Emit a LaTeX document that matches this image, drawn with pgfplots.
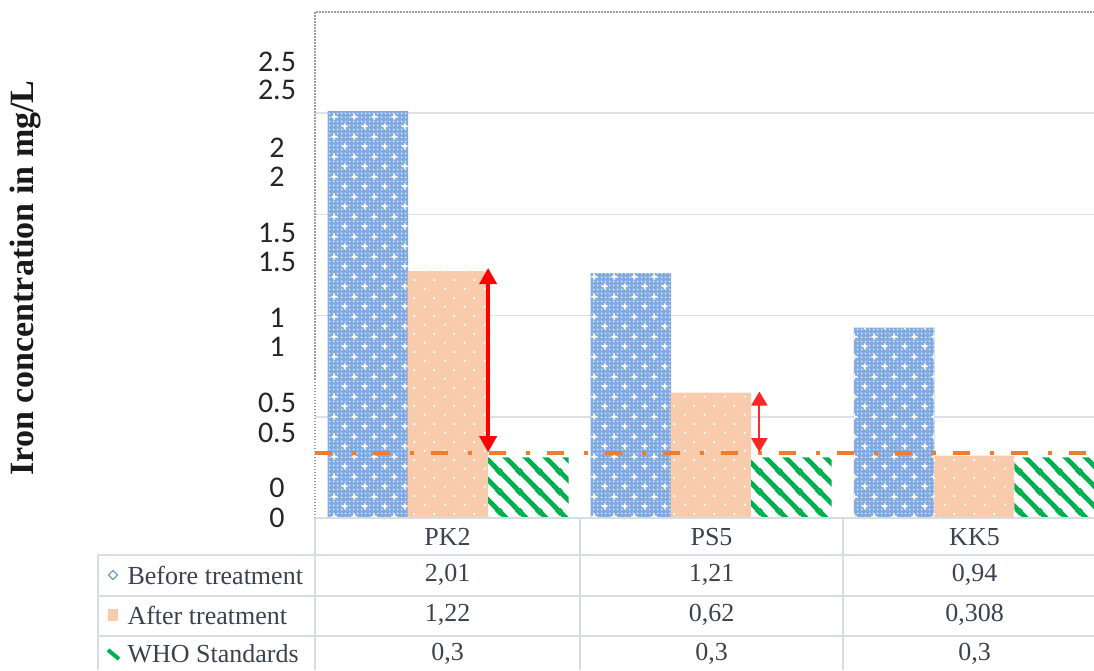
\documentclass[border=0pt]{standalone}
\usepackage{pgfplots}
\pgfplotsset{compat=1.18}
\usepackage{pgfplotstable}
\usepackage{fontspec}
\setmainfont{Liberation Serif}
\newfontfamily\tickfont{Carlito}
\usetikzlibrary{patterns.meta,arrows.meta}

\definecolor{beforeblue}{RGB}{128,170,228}
\definecolor{afterpeach}{RGB}{248,203,173}
\definecolor{whogreen}{RGB}{0,176,80}
\definecolor{refline}{RGB}{237,125,49}
\definecolor{gridc}{RGB}{219,224,233}
\definecolor{tabline}{RGB}{214,221,229}
\definecolor{tabtext}{RGB}{58,66,80}
\definecolor{ticktext}{RGB}{38,38,38}

% white plus signs on a staggered lattice (before treatment)
\tikzdeclarepattern{
  name=wcross, type=uncolored,
  bounding box={(0pt,0pt) and (20pt,20pt)},
  tile size={(20pt,20pt)},
  code={
    \draw[line width=1.8pt] (2pt,5pt) -- (8pt,5pt) (5pt,2pt) -- (5pt,8pt)
      (12pt,15pt) -- (18pt,15pt) (15pt,12pt) -- (15pt,18pt);
  }
}
% fine dot texture
\tikzdeclarepattern{
  name=fdots, type=uncolored,
  bounding box={(0pt,0pt) and (4pt,4pt)},
  tile size={(4pt,4pt)},
  code={\fill (2pt,2pt) circle (1.1pt);}
}
% small white dots (after treatment)
\tikzdeclarepattern{
  name=wdots, type=uncolored,
  bounding box={(0pt,0pt) and (20pt,18pt)},
  tile size={(20pt,18pt)},
  code={\fill (5pt,4.5pt) circle (1.3pt) (15pt,13.5pt) circle (1.3pt);}
}
% wide diagonal stripes (WHO standard)
\tikzdeclarepattern{
  name=wstripes, type=uncolored,
  bounding box={(0pt,0pt) and (20pt,20pt)},
  tile size={(20pt,20pt)},
  code={
    \draw[line width=5pt] (-10pt,10pt) -- (10pt,-10pt)
      (0pt,20pt) -- (20pt,0pt) (10pt,30pt) -- (30pt,10pt);
  }
}

\pgfplotstableread{
x before after who
0 2.01 1.22 0.3
1 1.21 0.62 0.3
2 0.94 0.308 0.3
}\irondata

\begin{document}
\begin{tikzpicture}[x=1pt,y=1pt]
\useasboundingbox (0,0) rectangle (1094,670);
\begin{axis}[
  at={(315pt,152pt)}, anchor=south west,
  scale only axis, width=779pt, height=506pt,
  xmin=-0.505, xmax=2.456, ymin=0, ymax=2.5,
  axis line style={draw=none},
  xtick=\empty,
  ytick={0.5,1,1.5,2}, yticklabels={}, major tick length=0pt,
  ymajorgrids, grid style={gridc, line width=1.6pt},
  clip=false,
]
\addplot[ybar, bar width=0.306, bar shift=0pt, draw=none, fill=beforeblue,
  postaction={pattern=fdots, pattern color=white!80!beforeblue},
  postaction={pattern=wcross, pattern color=white}]
  table[x expr=\thisrow{x}-0.304, y=before] {\irondata};
\addplot[ybar, bar width=0.306, bar shift=0pt, draw=none, fill=afterpeach,
  postaction={pattern=wdots, pattern color=white}]
  table[x=x, y=after] {\irondata};
\addplot[ybar, bar width=0.306, bar shift=0pt, draw=none, fill=white,
  postaction={pattern=wstripes, pattern color=whogreen}]
  table[x expr=\thisrow{x}+0.306, y=who] {\irondata};
% WHO limit line
\addplot[refline, line width=4pt, dash pattern=on 17pt off 20pt on 4pt off 17pt]
  coordinates {(-0.505,0.32) (2.456,0.32)};
% reduction arrows
\draw[red, line width=3.5pt, {Triangle[width=17pt,length=16pt]}-{Triangle[width=17pt,length=16pt]}]
  (axis cs:0.153,1.235) -- (axis cs:0.153,0.325);
\draw[red!85, line width=2pt, {Triangle[width=16pt,length=14pt]}-{Triangle[width=16pt,length=14pt]}]
  (axis cs:1.184,0.625) -- (axis cs:1.184,0.325);
% dotted frame
\draw[gray!75, line width=1.5pt, dash pattern=on 1.5pt off 1.5pt]
  (rel axis cs:0,0) -- (rel axis cs:0,1) -- (rel axis cs:1,1);
\end{axis}

% axis title
\node[rotate=90, text=black!90, font=\fontsize{34}{40}\selectfont\bfseries] at (25,392) {Iron concentration in mg/L};

% value scale labels
\begin{scope}[every node/.style={font=\tickfont\fontsize{30}{32}\selectfont, text=ticktext}]
\node at (277,608) {2.5}; \node at (277,522) {2}; \node at (277,437) {1.5};
\node at (277,352) {1};   \node at (277,267) {0.5}; \node at (277,182) {0};
\node at (277,580) {2.5}; \node at (277,493) {2}; \node at (277,408) {1.5};
\node at (277,323) {1};   \node at (277,237) {0.5}; \node at (277,152) {0};
\end{scope}

% data table grid
\begin{scope}[tabline, line width=1.8pt]
\draw (315,152) -- (1094,152);
\draw (98,115) -- (1094,115);
\draw (98,74) -- (1094,74);
\draw (98,34) -- (1094,34);
\draw (98,115) -- (98,0);
\draw (315,152) -- (315,0);
\draw (580,152) -- (580,0);
\draw (843,152) -- (843,0);
\end{scope}

\begin{scope}[every node/.style={font=\fontsize{26}{30}\selectfont, text=tabtext}]
\node at (447.5,133) {PK2}; \node at (711.5,133) {PS5}; \node at (974.5,133) {KK5};
\node[anchor=west] at (124,95) {Before treatment};
\node[anchor=west] at (124,55) {After treatment};
\node[anchor=west] at (124,16) {WHO Standards};
\node at (447.5,95) {2,01}; \node at (711.5,95) {1,21}; \node at (974.5,95) {0,94};
\node at (447.5,55) {1,22}; \node at (711.5,55) {0,62}; \node at (974.5,55) {0,308};
\node at (447.5,16) {0,3};  \node at (711.5,16) {0,3};  \node at (974.5,16) {0,3};
\end{scope}

% legend keys
\draw[beforeblue!90!black, line width=1.3pt] (113,99.5) -- (117.5,95) -- (113,90.5) -- (108.5,95) -- cycle;
\fill[afterpeach] (108,49) rectangle (118,61);
\draw[whogreen, line width=4pt] (108,20) -- (119,11);
\end{tikzpicture}
\end{document}
